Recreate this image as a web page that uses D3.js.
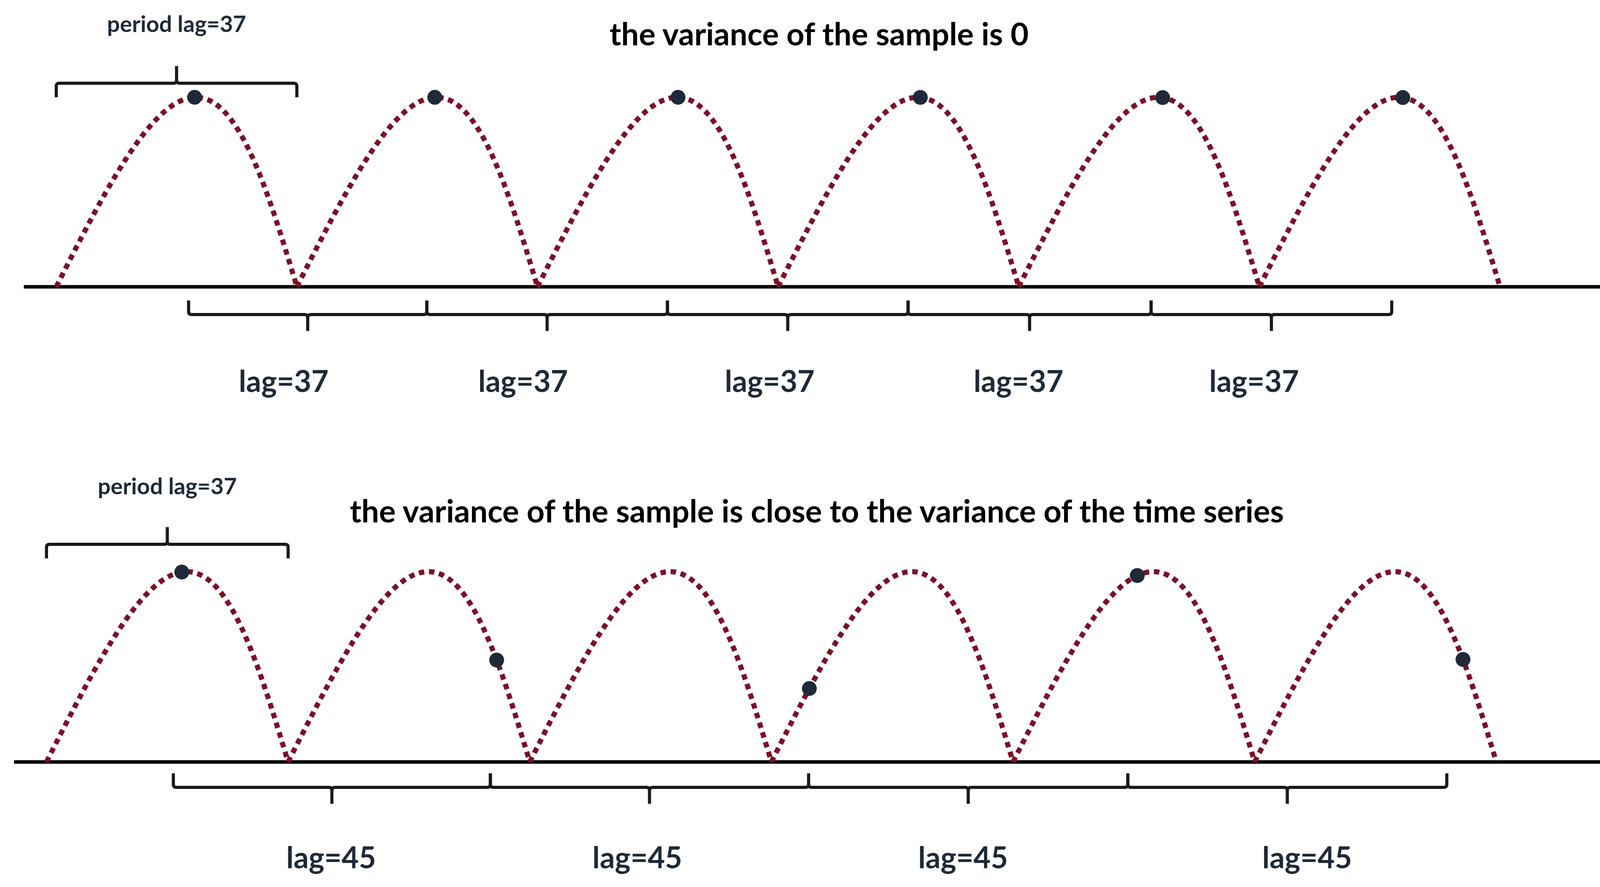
<!DOCTYPE html>
<html>
<head>
<meta charset="utf-8">
<script src="https://cdn.jsdelivr.net/npm/d3@7/dist/d3.min.js"></script>
<style>
  body { margin: 0; background: #fff; }
  text { font-family: Lato, "Open Sans", sans-serif; font-weight: bold; }
</style>
</head>
<body>
<svg id="chart" width="4322" height="2270"></svg>
<script>
// time runs in periods (1 period = lag 37)
var periods = [0, 1, 2, 3, 4, 5];
var topDots = [0.575, 1.573, 2.584, 3.591, 4.598, 5.596];
var bottomDots = [0.56, 1.863, 3.157, 4.514, 5.862];
var topBraces = [[0.55, 1.54], [1.54, 2.54], [2.54, 3.54], [3.54, 4.55], [4.55, 5.55]];
var topLabels = ['lag=37', 'lag=37', 'lag=37', 'lag=37', 'lag=37'];
var topLabelPos = [0.945, 1.94, 2.965, 3.999, 4.978];
var bottomBraces = [[0.525, 1.837], [1.837, 3.154], [3.154, 4.475], [4.475, 5.795]];
var bottomLabels = ['lag=45', 'lag=45', 'lag=45', 'lag=45'];
var bottomLabelPos = [1.178, 2.445, 3.793, 5.217];

var svg = d3.select('#chart');
var skew = 0.08;
function u(t) { return t + skew * Math.sin(Math.PI * t); }
function tOf(f) { // invert u by bisection
    var lo = 0, hi = 1;
    for (var i = 0; i < 40; i++) {
        var m = (lo + hi) / 2;
        if (u(m) < f) lo = m; else hi = m;
    }
    return (lo + hi) / 2;
}
function heightAt(x) {
    var f = x - Math.floor(x);
    return Math.sin(Math.PI * tOf(f));
}

function brace(g, x0, x1, y, dir, tick) {
    // dir: +1 ends hang down, tick up ; -1 ends rise up, tick down
    var xm = (x0 + x1) / 2, r = 8;
    var end = 36 * dir;
    var p = 'M' + x0 + ',' + (y + end) + ' L' + x0 + ',' + (y + r * dir) +
        ' Q' + x0 + ',' + y + ' ' + (x0 + r) + ',' + y +
        ' L' + (xm - r) + ',' + y + ' Q' + xm + ',' + y + ' ' + xm + ',' + (y - r * dir) +
        ' L' + xm + ',' + (y - tick * dir) +
        ' M' + xm + ',' + (y - r * dir) + ' Q' + xm + ',' + y + ' ' + (xm + r) + ',' + y +
        ' L' + (x1 - r) + ',' + y + ' Q' + x1 + ',' + y + ' ' + x1 + ',' + (y + r * dir) +
        ' L' + x1 + ',' + (y + end);
    g.append('path').attr('d', p).attr('fill', 'none')
        .attr('stroke', '#1a1a1a').attr('stroke-width', 8);
}

function panel(cfg) {
    var g = svg.append('g');
    var x = d3.scaleLinear().domain([0, 6]).range([cfg.x0, cfg.x0 + 6 * cfg.period]);
    var y = d3.scaleLinear().domain([0, 1]).range([cfg.axisY, cfg.peakY]);

    // axis with arrow
    g.append('line').attr('x1', cfg.ax0).attr('x2', cfg.ax1 - 30)
        .attr('y1', cfg.axisY).attr('y2', cfg.axisY)
        .attr('stroke', '#000').attr('stroke-width', 9);
    g.append('path')
        .attr('d', 'M' + cfg.ax1 + ',' + cfg.axisY + ' L' + (cfg.ax1 - 42) + ',' + (cfg.axisY - 15) +
            ' L' + (cfg.ax1 - 42) + ',' + (cfg.axisY + 15) + 'Z')
        .attr('fill', '#000');

    // arches
    var line = d3.line().x(function (d) { return x(d[0]); }).y(function (d) { return y(d[1]); });
    periods.forEach(function (p) {
        var pts = d3.range(0, 1.0001, 0.005).map(function (t) {
            return [p + u(t), Math.sin(Math.PI * t)];
        });
        g.append('path').attr('d', line(pts)).attr('fill', 'none')
            .attr('stroke', '#7b1128').attr('stroke-width', 13)
            .attr('stroke-dasharray', '14,12');
    });

    // dots
    g.selectAll('circle.dot').data(cfg.dots).enter().append('circle')
        .attr('cx', function (d) { return x(d); })
        .attr('cy', function (d) { return y(heightAt(d)); })
        .attr('r', 19).attr('fill', '#1f2a38');

    // period brace on top
    brace(g, x(0), x(1), cfg.topBraceY, 1, 44);
    g.append('text').attr('x', x(0.5)).attr('y', cfg.periodY)
        .attr('text-anchor', 'middle').attr('font-size', 58).attr('fill', '#1f2a38')
        .text('period lag=37');

    // title
    g.append('text').attr('x', cfg.titleX).attr('y', cfg.titleY)
        .attr('text-anchor', 'middle').attr('font-size', 80).attr('fill', '#000')
        .text(cfg.title);

    // lag braces
    cfg.braces.forEach(function (b) {
        brace(g, x(b[0]), x(b[1]), cfg.lagBraceY, -1, 42);
    });
    g.selectAll('text.lag').data(cfg.labels).enter().append('text')
        .attr('x', function (d, i) { return x(cfg.labelPos[i]); })
        .attr('y', cfg.labelY)
        .attr('text-anchor', 'middle').attr('font-size', 76).attr('fill', '#1f2a38')
        .text(function (d) { return d; });
}

panel({
    x0: 144, period: 616, axisY: 734, peakY: 249, ax0: 61, ax1: 4290,
    dots: topDots, topBraceY: 213, periodY: 82, titleX: 2097, titleY: 116,
    title: 'the variance of the sample is 0',
    braces: topBraces, lagBraceY: 805, labels: topLabels, labelPos: topLabelPos, labelY: 1003
});
panel({
    x0: 119, period: 618.6, axisY: 1950, peakY: 1463, ax0: 36, ax1: 4276,
    dots: bottomDots, topBraceY: 1393, periodY: 1265, titleX: 2091, titleY: 1337,
    title: 'the variance of the sample is close to the variance of the time series',
    braces: bottomBraces, lagBraceY: 2015, labels: bottomLabels, labelPos: bottomLabelPos, labelY: 2222
});
</script>
</body>
</html>
